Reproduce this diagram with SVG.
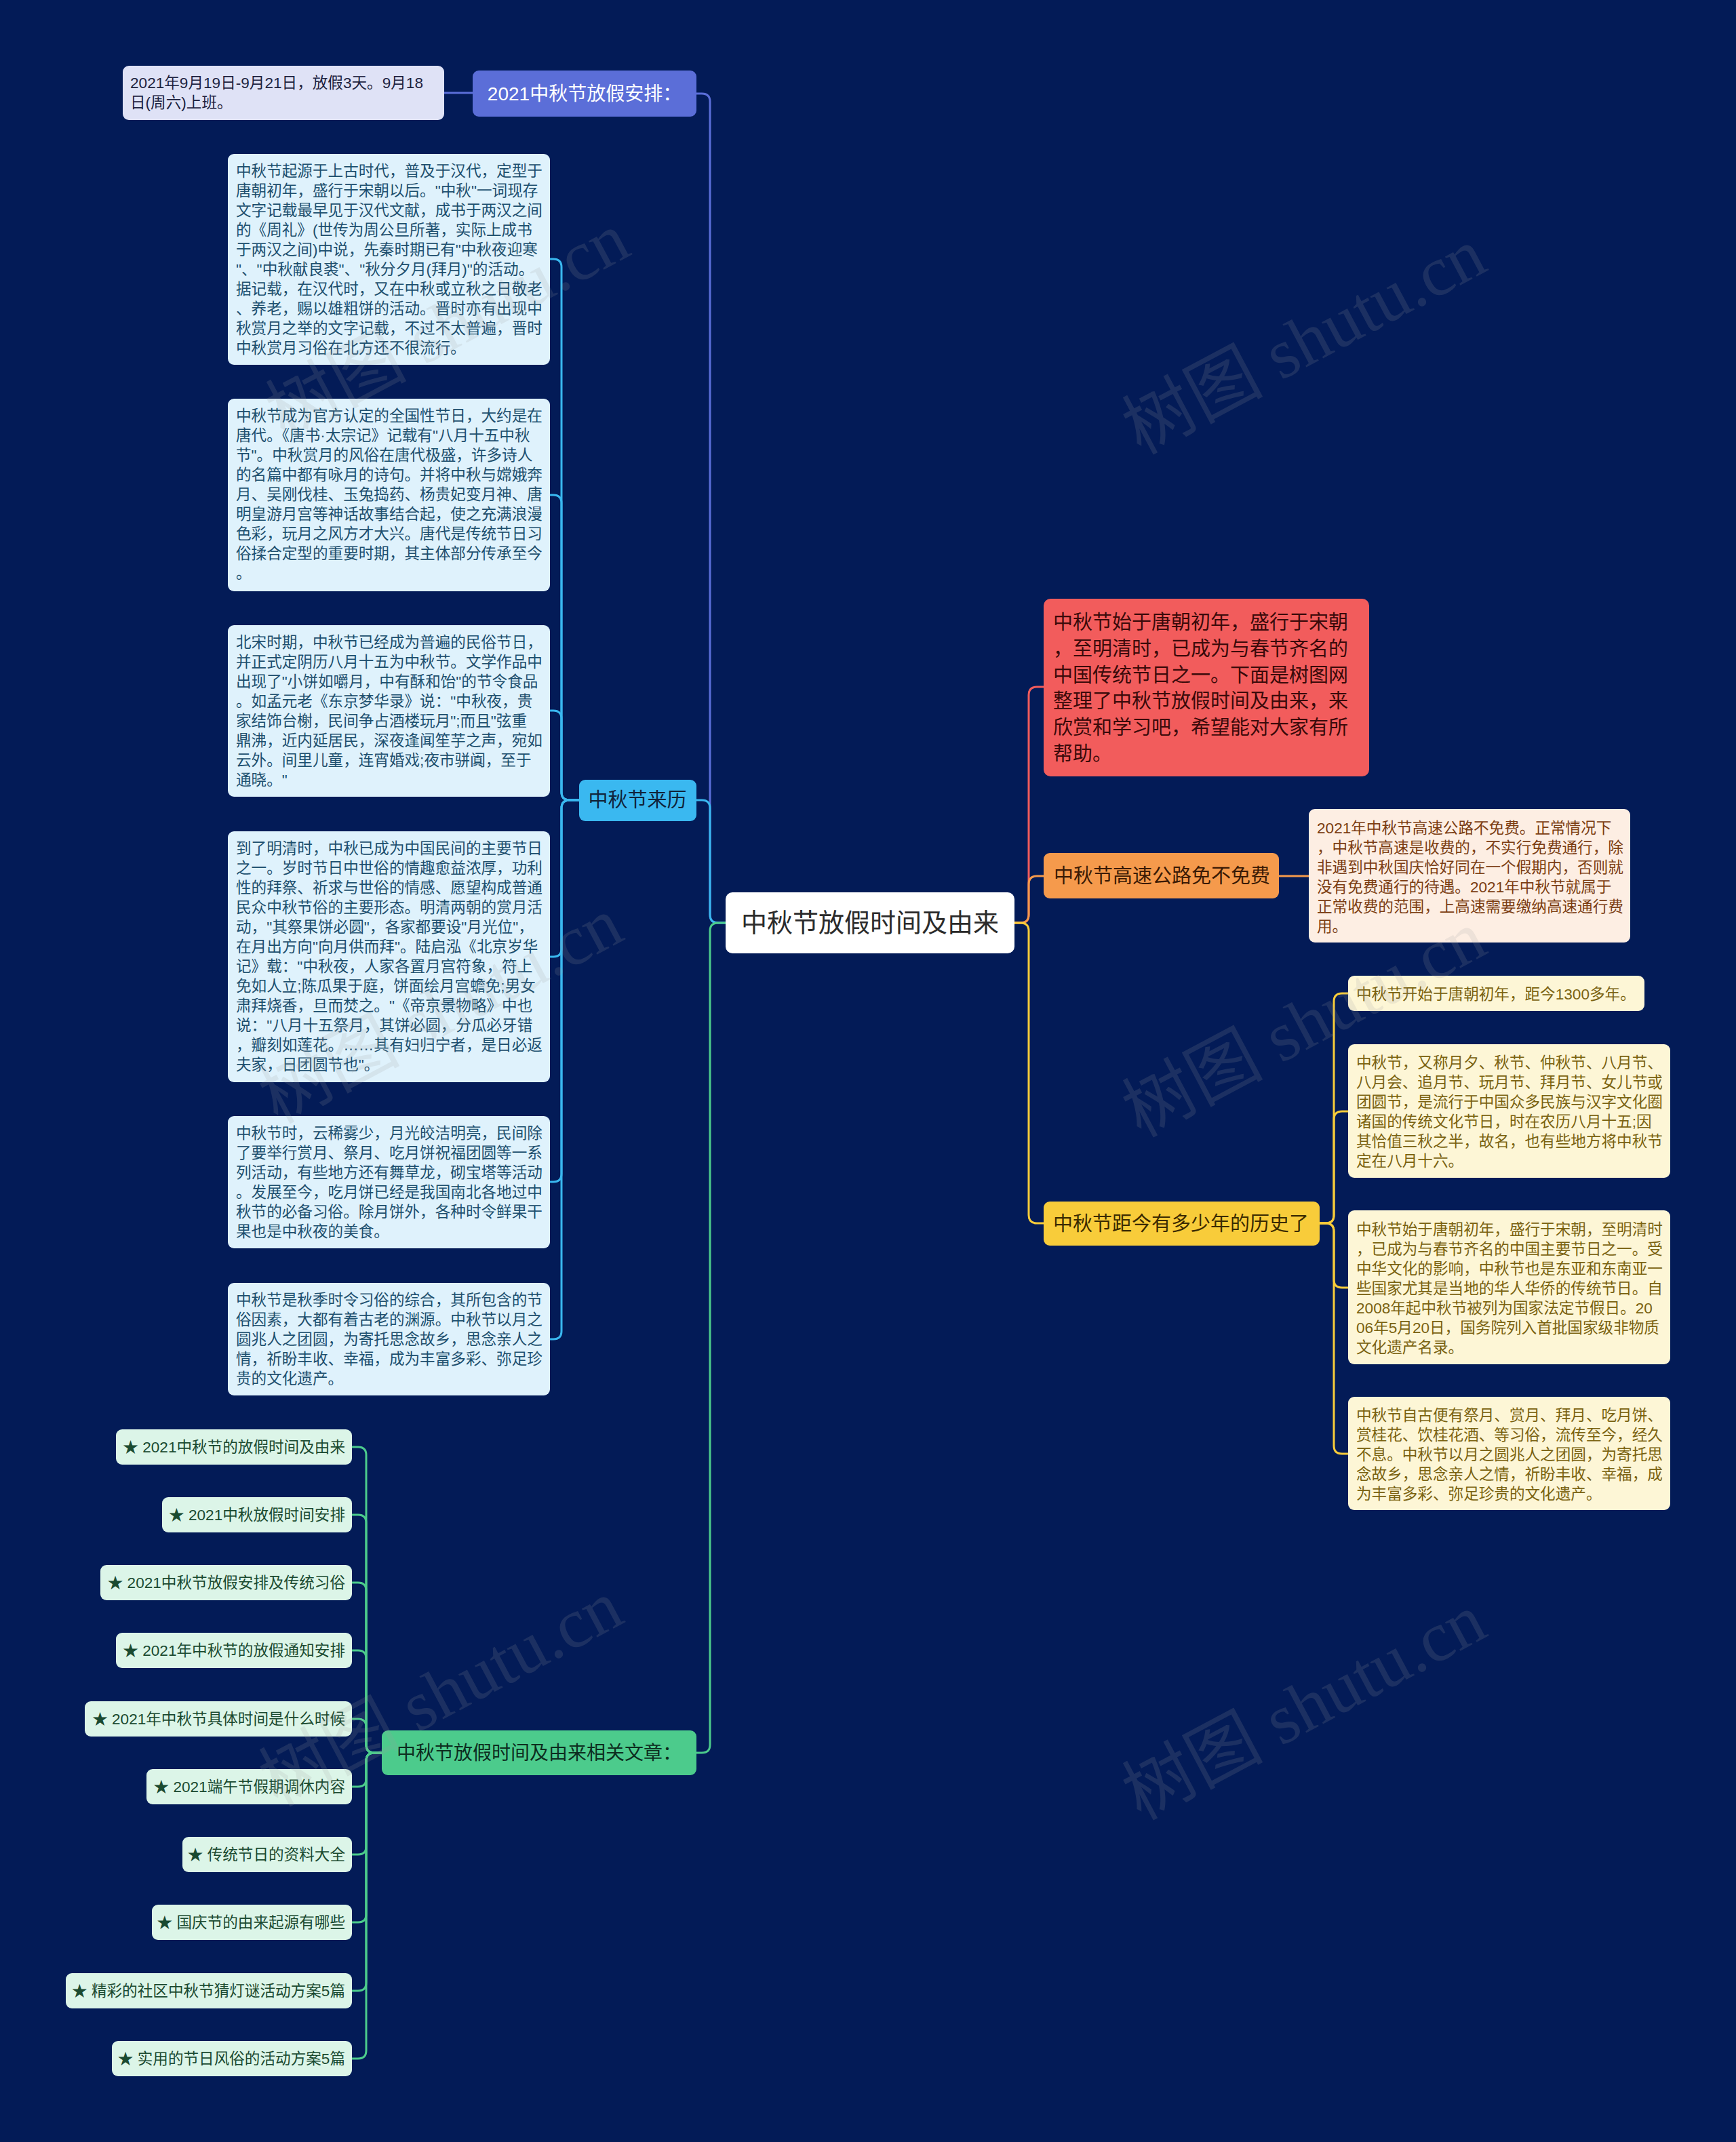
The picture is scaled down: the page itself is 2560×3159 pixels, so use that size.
<svg xmlns="http://www.w3.org/2000/svg" width="2560" height="3159" viewBox="0 0 2560 3159">
<style>
text{font-family:"Liberation Sans","Noto Sans CJK SC",sans-serif;dominant-baseline:central}
.ln{fill:none;stroke-width:3;stroke-linecap:round;stroke-linejoin:round}
.blue{stroke:#5b6ed8}.cyan{stroke:#3ab8f0}.green{stroke:#4ccb8c}.red{stroke:#f25c5c}.orange{stroke:#f59a4c}.yellow{stroke:#f8cc3a}
.t22{font-size:22.6px}
.t29{font-size:29px}
.lb{fill:#dff2fc}.lbt{fill:#1d4f6e}
.lg{fill:#dcf5e8}.lgt{fill:#1a4a30}
.lc{fill:#fdf6d6}.lct{fill:#7a6210}
.wm{font-family:"Liberation Serif","Noto Sans CJK SC",serif;font-size:104px;fill:#a0a0a0;opacity:0.16;text-anchor:middle}
</style>
<rect x="0" y="0" width="2560" height="3159" fill="#031b57"/>

<g id="connectors">
<path class="ln blue" d="M1070,1361 H1059 Q1047,1361 1047,1349 V150 Q1047,138 1035,138 H1027"/>
<path class="ln blue" d="M697,137 H655"/>
<path class="ln cyan" d="M1070,1361 H1059 Q1047,1361 1047,1349 V1192 Q1047,1180 1035,1180 H1027"/>
<path class="ln green" d="M1070,1361 H1059 Q1047,1361 1047,1373 V2573 Q1047,2585 1035,2585 H1027"/>
<path class="ln red" d="M1496,1361 H1505 Q1517,1361 1517,1349 V1025 Q1517,1013 1529,1013 H1539"/>
<path class="ln orange" d="M1496,1361 H1505 Q1517,1361 1517,1349 V1304 Q1517,1292 1529,1292 H1539"/>
<path class="ln orange" d="M1886,1292 H1930"/>
<path class="ln yellow" d="M1496,1361 H1505 Q1517,1361 1517,1373 V1792 Q1517,1804 1529,1804 H1539"/>
<path class="ln cyan" d="M854,1180 H840 Q828,1180 828,1168 V394 Q828,382 816,382 H811"/>
<path class="ln cyan" d="M854,1180 H840 Q828,1180 828,1168 V742 Q828,730 816,730 H811"/>
<path class="ln cyan" d="M854,1180 H840 Q828,1180 828,1168 V1060 Q828,1048 816,1048 H811"/>
<path class="ln cyan" d="M854,1180 H840 Q828,1180 828,1192 V1399 Q828,1411 816,1411 H811"/>
<path class="ln cyan" d="M854,1180 H840 Q828,1180 828,1192 V1731 Q828,1743 816,1743 H811"/>
<path class="ln cyan" d="M854,1180 H840 Q828,1180 828,1192 V1963 Q828,1975 816,1975 H811"/>
<path class="ln green" d="M563,2585 H552 Q540,2585 540,2573 V2146 Q540,2134 528,2134 H519"/>
<path class="ln green" d="M563,2585 H552 Q540,2585 540,2573 V2246 Q540,2234 528,2234 H519"/>
<path class="ln green" d="M563,2585 H552 Q540,2585 540,2573 V2346 Q540,2334 528,2334 H519"/>
<path class="ln green" d="M563,2585 H552 Q540,2585 540,2573 V2446 Q540,2434 528,2434 H519"/>
<path class="ln green" d="M563,2585 H552 Q540,2585 540,2573 V2547 Q540,2535 528,2535 H519"/>
<path class="ln green" d="M563,2585 H552 Q540,2585 540,2597 V2623 Q540,2635 528,2635 H519"/>
<path class="ln green" d="M563,2585 H552 Q540,2585 540,2597 V2723 Q540,2735 528,2735 H519"/>
<path class="ln green" d="M563,2585 H552 Q540,2585 540,2597 V2823 Q540,2835 528,2835 H519"/>
<path class="ln green" d="M563,2585 H552 Q540,2585 540,2597 V2924 Q540,2936 528,2936 H519"/>
<path class="ln green" d="M563,2585 H552 Q540,2585 540,2597 V3024 Q540,3036 528,3036 H519"/>
<path class="ln yellow" d="M1946,1804 H1955 Q1967,1804 1967,1792 V1477 Q1967,1465 1979,1465 H1988"/>
<path class="ln yellow" d="M1946,1804 H1955 Q1967,1804 1967,1792 V1651 Q1967,1639 1979,1639 H1988"/>
<path class="ln yellow" d="M1946,1804 H1955 Q1967,1804 1967,1816 V1887 Q1967,1899 1979,1899 H1988"/>
<path class="ln yellow" d="M1946,1804 H1955 Q1967,1804 1967,1816 V2132 Q1967,2144 1979,2144 H1988"/>
</g>

<g id="root">
<rect x="1070" y="1316" width="426" height="90" rx="10" fill="#ffffff"/>
<text x="1283" y="1361" font-size="38" fill="#2b2b2b" text-anchor="middle">中秋节放假时间及由来</text>
</g>

<g id="n-holiday">
<rect x="697" y="104" width="330" height="68" rx="9" fill="#5b6ed8"/>
<text x="862" y="138" font-size="28" fill="#ffffff" text-anchor="middle">2021中秋节放假安排：</text>
</g>
<g id="n-holiday-leaf">
<rect x="181" y="97" width="474" height="80" rx="9" fill="#dfe2f6"/>
<text class="t22" fill="#1d2340"><tspan x="192" y="122">2021年9月19日-9月21日，放假3天。9月18</tspan><tspan x="192" y="151">日(周六)上班。</tspan></text>
</g>

<g id="n-origin">
<rect x="854" y="1150" width="173" height="61" rx="9" fill="#3ab8f0"/>
<text x="940" y="1180" class="t29" fill="#10243a" text-anchor="middle">中秋节来历</text>
</g>
<g id="n-origin-1">
<rect class="lb" x="336" y="227" width="475" height="311" rx="9"/>
<text class="t22 lbt"><tspan x="348" y="252">中秋节起源于上古时代，普及于汉代，定型于</tspan><tspan x="348" y="281">唐朝初年，盛行于宋朝以后。"中秋"一词现存</tspan><tspan x="348" y="310">文字记载最早见于汉代文献，成书于两汉之间</tspan><tspan x="348" y="339">的《周礼》(世传为周公旦所著，实际上成书</tspan><tspan x="348" y="368">于两汉之间)中说，先秦时期已有"中秋夜迎寒</tspan><tspan x="348" y="397">"、"中秋献良裘"、"秋分夕月(拜月)"的活动。</tspan><tspan x="348" y="426">据记载，在汉代时，又在中秋或立秋之日敬老</tspan><tspan x="348" y="455">、养老，赐以雄粗饼的活动。晋时亦有出现中</tspan><tspan x="348" y="484">秋赏月之举的文字记载，不过不太普遍，晋时</tspan><tspan x="348" y="513">中秋赏月习俗在北方还不很流行。</tspan></text>
</g>
<g id="n-origin-2">
<rect class="lb" x="336" y="588" width="475" height="284" rx="9"/>
<text class="t22 lbt"><tspan x="348" y="613">中秋节成为官方认定的全国性节日，大约是在</tspan><tspan x="348" y="642">唐代。《唐书·太宗记》记载有"八月十五中秋</tspan><tspan x="348" y="671">节"。中秋赏月的风俗在唐代极盛，许多诗人</tspan><tspan x="348" y="700">的名篇中都有咏月的诗句。并将中秋与嫦娥奔</tspan><tspan x="348" y="729">月、吴刚伐桂、玉兔捣药、杨贵妃变月神、唐</tspan><tspan x="348" y="758">明皇游月宫等神话故事结合起，使之充满浪漫</tspan><tspan x="348" y="787">色彩，玩月之风方才大兴。唐代是传统节日习</tspan><tspan x="348" y="816">俗揉合定型的重要时期，其主体部分传承至今</tspan><tspan x="348" y="845">。</tspan></text>
</g>
<g id="n-origin-3">
<rect class="lb" x="336" y="922" width="475" height="253" rx="9"/>
<text class="t22 lbt"><tspan x="348" y="947">北宋时期，中秋节已经成为普遍的民俗节日，</tspan><tspan x="348" y="976">并正式定阴历八月十五为中秋节。文学作品中</tspan><tspan x="348" y="1005">出现了"小饼如嚼月，中有酥和饴"的节令食品</tspan><tspan x="348" y="1034">。如孟元老《东京梦华录》说："中秋夜，贵</tspan><tspan x="348" y="1063">家结饰台榭，民间争占酒楼玩月";而且"弦重</tspan><tspan x="348" y="1092">鼎沸，近内延居民，深夜逢闻笙芋之声，宛如</tspan><tspan x="348" y="1121">云外。间里儿童，连宵婚戏;夜市骈阗，至于</tspan><tspan x="348" y="1150">通晓。"</tspan></text>
</g>
<g id="n-origin-4">
<rect class="lb" x="336" y="1226" width="475" height="370" rx="9"/>
<text class="t22 lbt"><tspan x="348" y="1251">到了明清时，中秋已成为中国民间的主要节日</tspan><tspan x="348" y="1280">之一。岁时节日中世俗的情趣愈益浓厚，功利</tspan><tspan x="348" y="1309">性的拜祭、祈求与世俗的情感、愿望构成普通</tspan><tspan x="348" y="1338">民众中秋节俗的主要形态。明清两朝的赏月活</tspan><tspan x="348" y="1367">动，"其祭果饼必圆"，各家都要设"月光位"，</tspan><tspan x="348" y="1396">在月出方向"向月供而拜"。陆启泓《北京岁华</tspan><tspan x="348" y="1425">记》载："中秋夜，人家各置月宫符象，符上</tspan><tspan x="348" y="1454">免如人立;陈瓜果于庭，饼面绘月宫蟾免;男女</tspan><tspan x="348" y="1483">肃拜烧香，旦而焚之。"《帝京景物略》中也</tspan><tspan x="348" y="1512">说："八月十五祭月，其饼必圆，分瓜必牙错</tspan><tspan x="348" y="1541">，瓣刻如莲花。……其有妇归宁者，是日必返</tspan><tspan x="348" y="1570">夫家，日团圆节也"。</tspan></text>
</g>
<g id="n-origin-5">
<rect class="lb" x="336" y="1646" width="475" height="195" rx="9"/>
<text class="t22 lbt"><tspan x="348" y="1671">中秋节时，云稀雾少，月光皎洁明亮，民间除</tspan><tspan x="348" y="1700">了要举行赏月、祭月、吃月饼祝福团圆等一系</tspan><tspan x="348" y="1729">列活动，有些地方还有舞草龙，砌宝塔等活动</tspan><tspan x="348" y="1758">。发展至今，吃月饼已经是我国南北各地过中</tspan><tspan x="348" y="1787">秋节的必备习俗。除月饼外，各种时令鲜果干</tspan><tspan x="348" y="1816">果也是中秋夜的美食。</tspan></text>
</g>
<g id="n-origin-6">
<rect class="lb" x="336" y="1892" width="475" height="166" rx="9"/>
<text class="t22 lbt"><tspan x="348" y="1917">中秋节是秋季时令习俗的综合，其所包含的节</tspan><tspan x="348" y="1946">俗因素，大都有着古老的渊源。中秋节以月之</tspan><tspan x="348" y="1975">圆兆人之团圆，为寄托思念故乡，思念亲人之</tspan><tspan x="348" y="2004">情，祈盼丰收、幸福，成为丰富多彩、弥足珍</tspan><tspan x="348" y="2033">贵的文化遗产。</tspan></text>
</g>

<g id="n-related">
<rect x="563" y="2552" width="464" height="66" rx="9" fill="#4ccb8c"/>
<text x="795" y="2585" font-size="28" fill="#0d2d1f" text-anchor="middle">中秋节放假时间及由来相关文章：</text>
</g>
<g id="n-rel-1"><rect class="lg" x="171" y="2108" width="348" height="52" rx="9"/><text class="t22 lgt" x="509" y="2134" text-anchor="end">★ 2021中秋节的放假时间及由来</text></g>
<g id="n-rel-2"><rect class="lg" x="239" y="2208" width="280" height="52" rx="9"/><text class="t22 lgt" x="509" y="2234" text-anchor="end">★ 2021中秋放假时间安排</text></g>
<g id="n-rel-3"><rect class="lg" x="148" y="2308" width="371" height="52" rx="9"/><text class="t22 lgt" x="509" y="2334" text-anchor="end">★ 2021中秋节放假安排及传统习俗</text></g>
<g id="n-rel-4"><rect class="lg" x="171" y="2408" width="348" height="52" rx="9"/><text class="t22 lgt" x="509" y="2434" text-anchor="end">★ 2021年中秋节的放假通知安排</text></g>
<g id="n-rel-5"><rect class="lg" x="125" y="2509" width="394" height="52" rx="9"/><text class="t22 lgt" x="509" y="2535" text-anchor="end">★ 2021年中秋节具体时间是什么时候</text></g>
<g id="n-rel-6"><rect class="lg" x="216" y="2609" width="303" height="52" rx="9"/><text class="t22 lgt" x="509" y="2635" text-anchor="end">★ 2021端午节假期调休内容</text></g>
<g id="n-rel-7"><rect class="lg" x="269" y="2709" width="250" height="52" rx="9"/><text class="t22 lgt" x="509" y="2735" text-anchor="end">★ 传统节日的资料大全</text></g>
<g id="n-rel-8"><rect class="lg" x="224" y="2809" width="295" height="52" rx="9"/><text class="t22 lgt" x="509" y="2835" text-anchor="end">★ 国庆节的由来起源有哪些</text></g>
<g id="n-rel-9"><rect class="lg" x="97" y="2910" width="422" height="52" rx="9"/><text class="t22 lgt" x="509" y="2936" text-anchor="end">★ 精彩的社区中秋节猜灯谜活动方案5篇</text></g>
<g id="n-rel-10"><rect class="lg" x="165" y="3010" width="354" height="52" rx="9"/><text class="t22 lgt" x="509" y="3036" text-anchor="end">★ 实用的节日风俗的活动方案5篇</text></g>

<g id="n-intro">
<rect x="1539" y="883" width="480" height="262" rx="10" fill="#f25c5c"/>
<text class="t29" fill="#3a0a0a"><tspan x="1553" y="918">中秋节始于唐朝初年，盛行于宋朝</tspan><tspan x="1553" y="957">，至明清时，已成为与春节齐名的</tspan><tspan x="1553" y="996">中国传统节日之一。下面是树图网</tspan><tspan x="1553" y="1034">整理了中秋节放假时间及由来，来</tspan><tspan x="1553" y="1073">欣赏和学习吧，希望能对大家有所</tspan><tspan x="1553" y="1112">帮助。</tspan></text>
</g>

<g id="n-highway">
<rect x="1539" y="1258" width="347" height="67" rx="9" fill="#f59a4c"/>
<text x="1554" y="1292" class="t29" fill="#3a1a05">中秋节高速公路免不免费</text>
</g>
<g id="n-highway-leaf">
<rect x="1930" y="1193" width="474" height="197" rx="9" fill="#fdeee3"/>
<text class="t22" fill="#7b3d12"><tspan x="1942" y="1221">2021年中秋节高速公路不免费。正常情况下</tspan><tspan x="1942" y="1250">，中秋节高速是收费的，不实行免费通行，除</tspan><tspan x="1942" y="1279">非遇到中秋国庆恰好同在一个假期内，否则就</tspan><tspan x="1942" y="1308">没有免费通行的待遇。2021年中秋节就属于</tspan><tspan x="1942" y="1337">正常收费的范围，上高速需要缴纳高速通行费</tspan><tspan x="1942" y="1366">用。</tspan></text>
</g>

<g id="n-history">
<rect x="1539" y="1772" width="407" height="65" rx="9" fill="#f8cc3a"/>
<text x="1553" y="1805" class="t29" fill="#3a2a00">中秋节距今有多少年的历史了</text>
</g>
<g id="n-history-1">
<rect class="lc" x="1988" y="1439" width="437" height="52" rx="9"/>
<text class="t22 lct" x="2000" y="1466">中秋节开始于唐朝初年，距今1300多年。</text>
</g>
<g id="n-history-2">
<rect class="lc" x="1988" y="1540" width="475" height="197" rx="9"/>
<text class="t22 lct"><tspan x="2000" y="1567">中秋节，又称月夕、秋节、仲秋节、八月节、</tspan><tspan x="2000" y="1596">八月会、追月节、玩月节、拜月节、女儿节或</tspan><tspan x="2000" y="1625">团圆节，是流行于中国众多民族与汉字文化圈</tspan><tspan x="2000" y="1654">诸国的传统文化节日，时在农历八月十五;因</tspan><tspan x="2000" y="1683">其恰值三秋之半，故名，也有些地方将中秋节</tspan><tspan x="2000" y="1712">定在八月十六。</tspan></text>
</g>
<g id="n-history-3">
<rect class="lc" x="1988" y="1785" width="475" height="227" rx="9"/>
<text class="t22 lct"><tspan x="2000" y="1813">中秋节始于唐朝初年，盛行于宋朝，至明清时</tspan><tspan x="2000" y="1842">，已成为与春节齐名的中国主要节日之一。受</tspan><tspan x="2000" y="1871">中华文化的影响，中秋节也是东亚和东南亚一</tspan><tspan x="2000" y="1900">些国家尤其是当地的华人华侨的传统节日。自</tspan><tspan x="2000" y="1929">2008年起中秋节被列为国家法定节假日。20</tspan><tspan x="2000" y="1958">06年5月20日，国务院列入首批国家级非物质</tspan><tspan x="2000" y="1987">文化遗产名录。</tspan></text>
</g>
<g id="n-history-4">
<rect class="lc" x="1988" y="2060" width="475" height="167" rx="9"/>
<text class="t22 lct"><tspan x="2000" y="2087">中秋节自古便有祭月、赏月、拜月、吃月饼、</tspan><tspan x="2000" y="2116">赏桂花、饮桂花酒、等习俗，流传至今，经久</tspan><tspan x="2000" y="2145">不息。中秋节以月之圆兆人之团圆，为寄托思</tspan><tspan x="2000" y="2174">念故乡，思念亲人之情，祈盼丰收、幸福，成</tspan><tspan x="2000" y="2203">为丰富多彩、弥足珍贵的文化遗产。</tspan></text>
</g>

<g id="watermarks">
<text class="wm" transform="translate(660,480) rotate(-28)">树图 shutu.cn</text>
<text class="wm" transform="translate(1923,503) rotate(-28)">树图 shutu.cn</text>
<text class="wm" transform="translate(650,1490) rotate(-28)">树图 shutu.cn</text>
<text class="wm" transform="translate(1923,1510) rotate(-28)">树图 shutu.cn</text>
<text class="wm" transform="translate(650,2497) rotate(-28)">树图 shutu.cn</text>
<text class="wm" transform="translate(1923,2517) rotate(-28)">树图 shutu.cn</text>
</g>
</svg>
